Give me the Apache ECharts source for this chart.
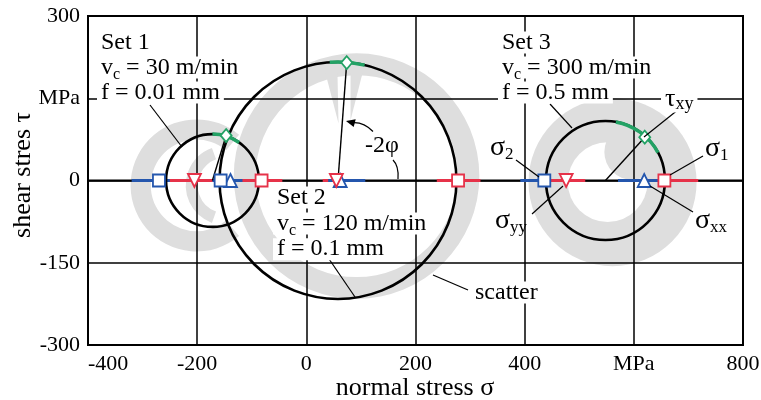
<!DOCTYPE html>
<html>
<head>
<meta charset="utf-8">
<script src="https://cdn.jsdelivr.net/npm/echarts@6/dist/echarts.min.js"></script>
<style>
  html, body { margin: 0; padding: 0; background: #fff; }
  #chart { width: 761px; height: 400px; }
</style>
</head>
<body>
<div id="chart"></div>
<script>
// three cutting parameter sets
const setNames = ['Set 1', 'Set 2', 'Set 3'];
const cuttingSpeed = ['30', '120', '300'];
const feed = ['0.01', '0.1', '0.5'];

// Mohr circles (MPa)
const circleCenter = [-172, 58, 548];
const circleRadius = [85, 217, 109];

// mean stresses (MPa)
const sigma1 = [-82, 278, 656];
const sigma2 = [-270, -157, 436];
const sigmaXX = [-139, 62, 619];
const sigmaYY = [-205, 55, 476];
const tauPointX = [-147, 74, 620];
const tauXY = [82, 215, 79];

// scatter of the single values [from, to]
const sigma1Range = [[-150, -44], [239, 319], [645, 718]];
const sigma2Range = [[-320, -250], [-172, -117], [392, 445]];
const sigmaXXRange = [[-160, -125], [40, 108], [571, 645]];
const sigmaYYRange = [[-262, -150], [30, 92], [447, 511]];
const tauArcDeg = [[55, 90], [77, 94], [28, 80]];

// grey scatter envelopes: cx, cy, r0, r, fromDeg, toDeg
const scatterBands = [
  [-201, -9, 84, 121, 50, 310],
  [-148, -9, 51, 73, 110, 250],
  [92, 8, 185, 225, 0, 360],
  [561, -3, 0, 154, 0, 360]
];
const scatterHoles = [[552, -3, 73]];
const scatterBlobs = [[597, 52, 51]];
const scatterWedges = [
  [35, 196, 57, 196, 59, 104],
  [81, 196, 103, 196, 81, 110]
];

// axis ticks
const xTickValues = [-400, -200, 0, 200, 400, 600, 800];
const xTickLabels = ['-400', '-200', '0', '200', '400', 'MPa', '800'];
const yTickValues = [-300, -150, 0, 150, 300];
const yTickLabels = ['-300', '-150', '0', 'MPa', '300'];

const grey = '#dedede';
const blue = '#2456ad';
const red = '#e63249';
const green = '#23a265';
const serif = '"Liberation Serif", "Times New Roman", serif';
const rad = d => d * Math.PI / 180;

const chart = echarts.init(document.getElementById('chart'));

function bandItem(params, api) {
  const c = api.coord([api.value(0), api.value(1)]);
  const k = api.size([1, 0])[0];
  return {
    type: 'sector',
    shape: {
      cx: c[0], cy: c[1], r0: api.value(2) * k, r: api.value(3) * k,
      startAngle: -rad(api.value(5)), endAngle: -rad(api.value(4)), clockwise: true
    },
    style: { fill: grey }
  };
}
function discItem(color) {
  return function (params, api) {
    const c = api.coord([api.value(0), api.value(1)]);
    const k = api.size([1, 0])[0];
    return { type: 'circle', shape: { cx: c[0], cy: c[1], r: api.value(2) * k }, style: { fill: color } };
  };
}
function wedgeItem(params, api) {
  const pts = [0, 2, 4].map(i => api.coord([api.value(i), api.value(i + 1)]));
  return { type: 'polygon', shape: { points: pts }, style: { fill: grey } };
}
function segItem(color, width) {
  return function (params, api) {
    const a = api.coord([api.value(0), 0]);
    const b = api.coord([api.value(1), 0]);
    return { type: 'line', shape: { x1: a[0], y1: a[1], x2: b[0], y2: b[1] }, style: { stroke: color, lineWidth: width } };
  };
}
function circleItem(params, api) {
  const c = api.coord([api.value(0), 0]);
  const r = api.size([api.value(1), 0])[0];
  return { type: 'circle', shape: { cx: c[0], cy: c[1], r: r }, style: { fill: 'none', stroke: '#000', lineWidth: 2.6 } };
}
function arcItem(params, api) {
  const c = api.coord([api.value(0), 0]);
  const r = api.size([api.value(1), 0])[0];
  return {
    type: 'arc',
    shape: { cx: c[0], cy: c[1], r: r, startAngle: -rad(api.value(3)), endAngle: -rad(api.value(2)), clockwise: true },
    style: { fill: 'none', stroke: green, lineWidth: 3.5 }
  };
}
function radiusItem(params, api) {
  const a = api.coord([api.value(0), 0]);
  const b = api.coord([api.value(1), api.value(2)]);
  return { type: 'line', shape: { x1: a[0], y1: a[1], x2: b[0], y2: b[1] }, style: { stroke: '#000', lineWidth: 1.4 } };
}
function marker(values, ys, symbol, color, size, rotate) {
  return {
    type: 'scatter', z: 6, symbol: symbol, symbolSize: size, symbolRotate: rotate || 0,
    data: values.map((v, i) => [v, ys ? ys[i] : 0]),
    itemStyle: { color: '#fff', borderColor: color, borderWidth: 1.8, opacity: 1 },
    emphasis: { disabled: true }, silent: true
  };
}

// text helpers
const rich = {
  n: { fontSize: 24, fontFamily: serif, lineHeight: 22 },
  s: { fontSize: 16, fontFamily: serif, height: 8, lineHeight: 8, verticalAlign: 'bottom' },
  g: { fontSize: 28, fontFamily: serif, lineHeight: 28 },
  gs: { fontSize: 17, fontFamily: serif, height: 14, lineHeight: 14, verticalAlign: 'bottom' },
  t: { fontSize: 26, fontFamily: serif, lineHeight: 26 },
  ts: { fontSize: 18, fontFamily: serif, height: 16, lineHeight: 16, verticalAlign: 'bottom' }
};
function label(x, y, text, bg) {
  return {
    type: 'text', x: x, y: y, z: 100,
    style: {
      text: text, rich: rich, fill: '#000', font: '24px ' + serif,
      align: 'left', verticalAlign: 'middle', textAlign: 'left', textVerticalAlign: 'middle',
      backgroundColor: bg ? '#fff' : null, padding: bg ? [0, 4, 0, 4] : 0
    }
  };
}
function leader(x1, y1, x2, y2) {
  return { type: 'line', z: 90, shape: { x1, y1, x2, y2 }, style: { stroke: '#000', lineWidth: 1.2 } };
}

const setTextX = [97, 273, 498];
const setTextY = [42.6, 197.6, 42.6];
const setLineGap = [25, 25.8, 25];
const graphics = [];
setNames.forEach((name, i) => {
  const x = setTextX[i], y = setTextY[i], g = setLineGap[i];
  graphics.push(label(x, y, '{n|' + name + '}', true));
  graphics.push(label(x, y + g, '{n|v}{s|c}{n| = ' + cuttingSpeed[i] + ' m/min}', true));
  graphics.push(label(x, y + 2 * g, '{n|f = ' + feed[i] + ' mm}', true));
});
graphics.push(
  label(490, 147.6, '{g|σ}{gs|2}', false),
  label(705, 149, '{g|σ}{gs|1}', false),
  label(661, 99.5, '{t|τ}{ts|xy}', true),
  label(495, 220.6, '{g|σ}{gs|yy}', false),
  label(695, 220.6, '{g|σ}{gs|xx}', false),
  label(471, 292.6, '{n|scatter}', true),
  label(365, 145.6, '{n|-2φ}', false),
  leader(150, 105, 182, 147),
  leader(327, 256, 355, 297),
  leader(550, 104, 572, 128),
  leader(516, 160, 539, 177),
  leader(703, 156, 670, 175),
  leader(644, 137, 679, 109),
  leader(532, 214, 563, 186),
  leader(693, 212, 650, 186),
  leader(433, 275, 468, 290),
  { type: 'bezierCurve', z: 90, shape: { x1: 373, y1: 131.5, cpx1: 364, cpy1: 122, x2: 353, y2: 122.6 },
    style: { stroke: '#000', lineWidth: 1.2, fill: 'none' } },
  { type: 'polygon', z: 90, shape: { points: [[346, 121], [355.7, 119.3], [353.7, 127.1]] }, style: { fill: '#000' } },
  { type: 'bezierCurve', z: 90, shape: { x1: 393, y1: 160, cpx1: 399, cpy1: 166, x2: 398, y2: 179 },
    style: { stroke: '#000', lineWidth: 1.2, fill: 'none' } },
  {
    type: 'text', x: 415, y: 388, z: 100,
    style: { text: 'normal stress σ', font: '26px ' + serif, fill: '#000',
      align: 'center', verticalAlign: 'middle', textAlign: 'center', textVerticalAlign: 'middle' }
  },
  {
    type: 'text', x: 23, y: 175, z: 100, rotation: Math.PI / 2,
    style: { text: 'shear stres τ', font: '26px ' + serif, fill: '#000',
      align: 'center', verticalAlign: 'middle', textAlign: 'center', textVerticalAlign: 'middle' }
  }
);

const option = {
  animation: false,
  grid: {
    left: 88, right: 18, top: 16, bottom: 55, show: true,
    borderColor: '#000', borderWidth: 2, containLabel: false, outerBoundsMode: 'none'
  },
  xAxis: {
    type: 'value', min: -400, max: 800, interval: 200, z: 3,
    axisLine: { show: false }, axisTick: { show: false },
    splitLine: { show: true, lineStyle: { color: '#000', width: 1.5 } },
    axisLabel: {
      color: '#000', fontFamily: serif, fontSize: 22, margin: 8,
      showMinLabel: true, showMaxLabel: true, alignMinLabel: 'left',
      formatter: v => { const i = xTickValues.indexOf(v); return i < 0 ? '' : xTickLabels[i]; }
    }
  },
  yAxis: {
    type: 'value', min: -300, max: 300, interval: 150, z: 3,
    axisLine: { show: false }, axisTick: { show: false },
    splitLine: { show: true, lineStyle: { color: '#000', width: 1.5 } },
    axisLabel: {
      color: '#000', fontFamily: serif, fontSize: 22, margin: 8,
      showMinLabel: true, showMaxLabel: true,
      formatter: v => { const i = yTickValues.indexOf(v); return i < 0 ? '' : yTickLabels[i]; }
    }
  },
  series: [
    { type: 'custom', z: 1, silent: true, renderItem: bandItem, data: scatterBands },
    { type: 'custom', z: 1, silent: true, renderItem: discItem('#fff'), data: scatterHoles },
    { type: 'custom', z: 1, silent: true, renderItem: discItem(grey), data: scatterBlobs },
    { type: 'custom', z: 1, silent: true, renderItem: wedgeItem, data: scatterWedges },
    { type: 'custom', z: 4, silent: true, renderItem: segItem('#000', 2),
      data: [[xTickValues[0], xTickValues[xTickValues.length - 1]]] },
    { type: 'custom', z: 4, silent: true, renderItem: segItem(red, 3), data: sigmaYYRange.concat(sigma1Range) },
    { type: 'custom', z: 4, silent: true, renderItem: segItem(blue, 3), data: sigma2Range.concat(sigmaXXRange) },
    { type: 'custom', z: 5, silent: true, renderItem: circleItem,
      data: circleCenter.map((c, i) => [c, circleRadius[i]]) },
    { type: 'custom', z: 5, silent: true, renderItem: arcItem,
      data: circleCenter.map((c, i) => [c, circleRadius[i], tauArcDeg[i][0], tauArcDeg[i][1]]) },
    { type: 'custom', z: 5, silent: true, renderItem: radiusItem,
      data: circleCenter.map((c, i) => [c, tauPointX[i], tauXY[i]]) },
    marker(sigmaXX, null, 'triangle', blue, 13),
    marker(sigma2, null, 'rect', blue, 12),
    marker(sigma1, null, 'rect', red, 12),
    marker(sigmaYY, null, 'triangle', red, 13, 180),
    marker(tauPointX, tauXY, 'diamond', green, [11, 13])
  ],
  graphic: graphics
};
chart.setOption(option);
</script>
</body>
</html>
